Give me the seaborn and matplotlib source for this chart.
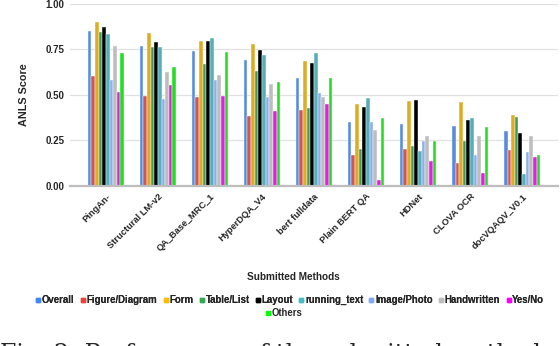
import numpy as np
import pandas as pd
import seaborn as sns
import matplotlib
matplotlib.use("Agg")
import matplotlib.pyplot as plt
from matplotlib.lines import Line2D

methods = ["PingAn-", "Structural LM-v2", "QA_Base_MRC_1", "HyperDQA_V4", "bert fulldata",
           "Plain BERT QA", "HDNet", "CLOVA OCR", "docVQAQV_V0.1"]
series = ["Overall", "Figure/Diagram", "Form", "Table/List", "Layout", "running_text",
          "Image/Photo", "Handwritten", "Yes/No", "Others"]
colors = ["#4285F4", "#EA4335", "#FBBC04", "#34A853", "#000000", "#46BDC6",
          "#7BAAF7", "#BDBDBD", "#FF00FF", "#00FF00"]

overall     = [0.851, 0.768, 0.741, 0.691, 0.592, 0.351, 0.338, 0.329, 0.300]
figure_diag = [0.605, 0.493, 0.487, 0.386, 0.417, 0.169, 0.202, 0.123, 0.198]
form        = [0.902, 0.840, 0.799, 0.781, 0.687, 0.448, 0.468, 0.461, 0.388]
table_list  = [0.847, 0.763, 0.667, 0.632, 0.426, 0.202, 0.217, 0.244, 0.380]
layout      = [0.873, 0.792, 0.794, 0.748, 0.675, 0.432, 0.470, 0.362, 0.292]
running     = [0.836, 0.761, 0.814, 0.719, 0.731, 0.481, 0.191, 0.375, 0.066]
image_photo = [0.582, 0.476, 0.584, 0.487, 0.511, 0.349, 0.246, 0.167, 0.184]
handwritten = [0.770, 0.627, 0.608, 0.562, 0.489, 0.308, 0.274, 0.274, 0.274]
yes_no      = [0.516, 0.553, 0.493, 0.411, 0.448, 0.031, 0.136, 0.068, 0.158]
others      = [0.730, 0.654, 0.737, 0.568, 0.592, 0.375, 0.244, 0.322, 0.167]

values = [overall, figure_diag, form, table_list, layout, running,
          image_photo, handwritten, yes_no, others]

rows = []
for s, vals in zip(series, values):
    for m, v in zip(methods, vals):
        rows.append({"Method": m, "Series": s, "Score": v})
df = pd.DataFrame(rows)

sns.set_style("white")
plt.rcParams["font.family"] = ["Liberation Sans", "DejaVu Sans"]

W, H = 560, 346
fig = plt.figure(figsize=(W / 100, H / 100), dpi=100)
left, right, top, bottom = 70, 558, 4, 185.6
ax = fig.add_axes([left / W, 1 - bottom / H, (right - left) / W, (bottom - top) / H])

sns.barplot(data=df, x="Method", y="Score", hue="Series", order=methods,
            hue_order=series, palette=colors, width=0.7, ax=ax,
            edgecolor="white", linewidth=0.3, legend=False, zorder=3)

ax.set_xlim(-0.69, 8.69)
ax.set_ylim(0, 1.0)
ax.set_yticks([0, 0.25, 0.5, 0.75, 1.0])
ax.set_yticklabels(["0.00", "0.25", "0.50", "0.75", "1.00"], fontsize=7, fontweight="bold")
ax.yaxis.grid(True, color="#e0e0e0", linewidth=0.9, zorder=0)
ax.set_axisbelow(True)
for sp in ["top", "right", "left"]:
    ax.spines[sp].set_visible(False)
ax.spines["bottom"].set_color("#bdbdbd")
ax.spines["bottom"].set_linewidth(1.6)
ax.spines["bottom"].set_zorder(4)
ax.tick_params(axis="both", length=0, pad=4)

ax.set_xticks(range(len(methods)))
ax.set_xticklabels(methods, rotation=45, ha="right", va="top", rotation_mode="anchor",
                   fontsize=6.7, fontweight="bold")
ax.tick_params(axis="x", pad=4.5)

ax.set_xlabel("")
ax.set_ylabel("ANLS Score", fontsize=7.8, fontweight="bold", labelpad=12)

fig.text(293 / W, 1 - 277 / H, "Submitted Methods", ha="center", va="center",
         fontsize=7.2, fontweight="bold")

handles = [Line2D([0], [0], marker="s", linestyle="none", markersize=3,
                  markerfacecolor=c, markeredgecolor=c) for c in colors]
leg1 = fig.legend(handles[:9], series[:9], loc="center", ncol=9,
                  bbox_to_anchor=(290 / W, 1 - 300 / H), frameon=False,
                  prop={"size": 6.9, "weight": "bold"}, handlelength=0.5,
                  handletextpad=0.15, columnspacing=0.6, borderpad=0, borderaxespad=0)
leg2 = fig.legend(handles[9:], series[9:], loc="center", ncol=1,
                  bbox_to_anchor=(284 / W, 1 - 313 / H), frameon=False,
                  prop={"size": 6.9, "weight": "bold"}, handlelength=0.5,
                  handletextpad=0.15, borderpad=0, borderaxespad=0)
fig.add_artist(leg1)

fig.text(0.0, 1 - 343 / H, "Fig. 2: Performance of the submitted methods for",
         ha="left", va="top", fontsize=17, family="DejaVu Serif")

fig.savefig("out.png", dpi=100)
